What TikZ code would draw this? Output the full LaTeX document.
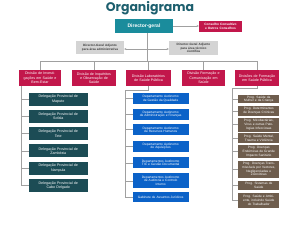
\documentclass[tikz,border=0pt]{standalone}
\usepackage{fontspec}
\setmainfont{Liberation Sans}
\newfontfamily\titlefont{Poppins}
\usetikzlibrary{arrows.meta}
\definecolor{titc}{HTML}{1D5F6E}
\definecolor{dgc}{HTML}{1A8C9C}
\definecolor{redc}{HTML}{C2174B}
\definecolor{grayc}{HTML}{D4D4D4}
\definecolor{graytx}{HTML}{3A3A3A}
\definecolor{delc}{HTML}{1C4C55}
\definecolor{bluc}{HTML}{0B62C8}
\definecolor{brnc}{HTML}{6E5D4D}
\definecolor{linec}{HTML}{A0A0A0}
\newcommand\fA{\fontsize{3.6}{4.3}\selectfont}
\newcommand\fB{\fontsize{3.2}{3.7}\selectfont}
\tikzset{
  bx/.style={rectangle, inner sep=0pt, align=center, text=white},
  dgbox/.style={bx, fill=dgc, minimum width=58pt, minimum height=14pt, font=\bfseries\fontsize{5}{6}\selectfont},
  consbox/.style={bx, fill=redc, minimum width=43pt, minimum height=11pt, text width=41pt, font=\bfseries\fB},
  graybox/.style={bx, fill=grayc, text=graytx, minimum width=48pt, minimum height=13.5pt, text width=46pt, font=\bfseries\fontsize{3.1}{3.7}\selectfont},
  divbox/.style={bx, fill=redc, minimum height=16pt, text width=42pt, font=\fA},
  delbox/.style={bx, fill=delc, minimum width=58.5pt, minimum height=13pt, text width=56pt, font=\fA},
  blubox/.style={bx, fill=bluc, minimum width=56pt, minimum height=11pt, text width=54pt, font=\fB},
  brnbox/.style={bx, fill=brnc, minimum width=41pt, minimum height=9.5pt, text width=40pt, font=\fB},
  conn/.style={draw=linec, line width=0.6pt},
  arr/.style={conn, -{Stealth[length=2.2pt,width=2pt]}}
}
\begin{document}
\begin{tikzpicture}[x=1pt,y=-1pt]
\useasboundingbox[fill=white] (0,0) rectangle (300,225);

\node[anchor=base, text=titc, font=\titlefont\bfseries\fontsize{12.5}{14}\selectfont] (title) at (150,11.3) {Organigrama};

\node[dgbox] (dg) at (144,26) {Director-geral};
\node[consbox] (cons) at (220.5,26.5) {Conselho Consultivo\\e Outros Conselhos};
\draw[arr] (dg.east) -- (cons.west |- dg.east);

\node[graybox] (gl) at (100,47.5) {Director-Geral Adjunto\\para área administrativa};
\node[graybox, minimum width=49pt, minimum height=14pt] (gr) at (193.5,48) {Director-Geral Adjunto\\para área técnico\\científica};

\coordinate (vtop) at (147,33);
\coordinate (vmid) at (147,49);
\coordinate (vbot) at (147,61);
\draw[conn] (vtop) -- (vbot);
\draw[arr] (vmid) -- (vmid -| gl.east);
\draw[arr] (vmid) -- (vmid -| gr.west);

\node[divbox, minimum width=42pt] (d1) at (40,78) {Divisão de Investi-\\gações em Saúde e\\Bem-Estar};
\node[divbox, minimum width=44pt] (d2) at (94,78) {Divisão de Inquéritos\\e Observação de\\Saúde};
\node[divbox, minimum width=45pt] (d3) at (148.5,78) {Divisão Laboratórios\\de Saúde Pública};
\node[divbox, minimum width=43pt] (d4) at (203.5,78) {Divisão Formação e\\Comunicação em\\Saúde};
\node[divbox, minimum width=44pt] (d5) at (257,78) {Divisões de Formação\\em Saúde Pública};

\draw[conn] (d1.north |- vbot) -- (d5.north |- vbot);
\foreach \d in {d1,d2,d3,d4,d5} \draw[conn] (\d.north |- vbot) -- (\d.north);

% Delegacoes
\node[delbox] (p1) at (58.25,99) {Delegação Provincial de\\Maputo};
\node[delbox] (p2) at (58.25,116.3) {Delegação Provincial de\\Sofala};
\node[delbox] (p3) at (58.25,133.6) {Delegação Provincial de\\Tete};
\node[delbox] (p4) at (58.25,150.9) {Delegação Provincial de\\Zambézia};
\node[delbox] (p5) at (58.25,168.2) {Delegação Provincial de\\Nampula};
\node[delbox] (p6) at (58.25,185.5) {Delegação Provincial de\\Cabo Delgado};
\coordinate (pl) at (21.7,86);
\draw[conn] (pl) -- (pl |- p6.west);
\foreach \p in {p1,p2,p3,p4,p5,p6} \draw[conn] (pl |- \p.west) -- (\p.west);

% Departamentos
\node[blubox] (b1) at (160.7,98.7) {Departamento Autónomo\\de Gestão da Qualidade};
\node[blubox] (b2) at (160.7,114.2) {Departamento Autónomo\\de Administração e Finanças};
\node[blubox] (b3) at (160.7,129.7) {Departamento Autónomo\\de Recursos Humanos};
\node[blubox] (b4) at (160.7,146.2) {Departamento Autónomo\\de Aquisições};
\node[blubox] (b5) at (160.7,162.8) {Departamentos Autónomo\\TIC e Gestão Documental};
\node[blubox, minimum height=15pt] (b6) at (160.7,180.8) {Departamentos Autónomo\\de Auditoria e Controlo\\Interno};
\node[blubox, minimum height=9.4pt] (b7) at (160.7,197) {Gabinete de Assuntos Jurídicos};
\coordinate (bk) at (148.5,90);
\coordinate (bl) at (125,90);
\draw[conn] (d3.south) -- (bk) -- (bl) -- (bl |- b7.west);
\foreach \b in {b1,b2,b3,b4,b5,b6,b7} \draw[conn] (bl |- \b.west) -- (\b.west);

% Programas
\node[brnbox, minimum height=8.5pt] (r1) at (258.8,99.2) {Prog. Saúde da\\Mulher e da Criança};
\node[brnbox] (r2) at (258.8,110.8) {Prog. Determinantes\\de Doenças Crónicas};
\node[brnbox, minimum height=14pt] (r3) at (258.8,124.7) {Prog. Micobactérias,\\Vírus e outras Pato-\\logias Infecciosas};
\node[brnbox] (r4) at (258.8,138.2) {Prog. Saúde Mental,\\Trauma e Violência};
\node[brnbox, minimum height=13.3pt] (r5) at (258.8,151.7) {Prog. Doenças\\Endémicas de Grande\\Impacto Sanitário};
\node[brnbox, minimum height=16.7pt] (r6) at (258.8,169.3) {Prog. Doenças Trans-\\missíveis por Vectores,\\Negligenciadas e\\Zoonóticas};
\node[brnbox, minimum height=9.3pt] (r7) at (258.8,185.3) {Prog. Sistemas de\\Saúde};
\node[brnbox, minimum height=15pt] (r8) at (258.8,200.2) {Prog. Saúde e Ambi-\\ente, incluindo Saúde\\do Trabalhador};
\coordinate (rk) at (257,88.5);
\coordinate (rl) at (232.3,88.5);
\draw[conn] (d5.south) -- (rk) -- (rl) -- (rl |- r8.west);
\foreach \r in {r1,r2,r3,r4,r5,r6,r7,r8} \draw[conn] (rl |- \r.west) -- (\r.west);
\end{tikzpicture}
\end{document}
